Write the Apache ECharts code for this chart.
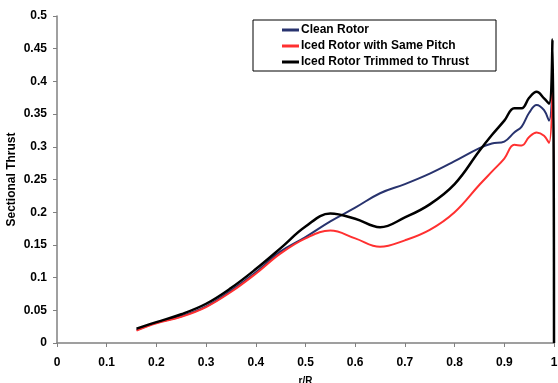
<!DOCTYPE html>
<html>
<head>
<meta charset="utf-8">
<script src="https://cdn.jsdelivr.net/npm/echarts@6/dist/echarts.min.js"></script>
<style>
  html, body { margin: 0; padding: 0; background: #fff; }
  #chart { width: 558px; height: 383px; }
</style>
</head>
<body>
<div id="chart"></div>
<script>
// Radial stations r/R
const radius = [0.16, 0.2, 0.25, 0.3, 0.35, 0.4, 0.45, 0.5, 0.55, 0.6, 0.65, 0.7, 0.75, 0.8,
                0.85, 0.875, 0.9, 0.92, 0.935, 0.95, 0.965, 0.98, 0.99, 0.997, 1.0];

// Sectional thrust for each rotor condition
const cleanRotor = [0.020, 0.031, 0.041, 0.056, 0.080, 0.108, 0.140, 0.162, 0.186, 0.207, 0.229, 0.243, 0.259, 0.278,
                    0.298, 0.305, 0.308, 0.322, 0.331, 0.352, 0.364, 0.356, 0.340, 0.400, 0.0];
const icedSamePitch = [0.019, 0.030, 0.040, 0.055, 0.078, 0.106, 0.137, 0.160, 0.172, 0.160, 0.147, 0.157, 0.173, 0.200,
                       0.242, 0.262, 0.282, 0.303, 0.302, 0.315, 0.322, 0.317, 0.306, 0.390, 0.0];
const icedTrimmed = [0.022, 0.032, 0.044, 0.060, 0.084, 0.113, 0.145, 0.178, 0.198, 0.190, 0.177, 0.192, 0.212, 0.243,
                     0.294, 0.318, 0.340, 0.359, 0.359, 0.375, 0.384, 0.374, 0.366, 0.464, 0.0];

const seriesNames = ['Clean Rotor', 'Iced Rotor with Same Pitch', 'Iced Rotor Trimmed to Thrust'];

const font = 'Liberation Sans, Arial, sans-serif';
const pairs = (ys) => radius.map((x, i) => [x, ys[i]]);

function lineSeries(name, ys, color, width) {
  return {
    name: name,
    type: 'line',
    data: pairs(ys),
    smooth: 0.4,
    showSymbol: false,
    lineStyle: { color: color, width: width },
    itemStyle: { color: color },
    emphasis: { disabled: true }
  };
}

const chart = echarts.init(document.getElementById('chart'), null, { renderer: 'canvas' });
chart.setOption({
  animation: false,
  backgroundColor: '#fff',
  grid: { left: 57, right: 4, top: 16, bottom: 40, containLabel: false, outerBoundsMode: 'none' },
  legend: {
    left: 253, top: 20,
    orient: 'vertical',
    data: seriesNames,
    icon: 'rect',
    itemWidth: 17, itemHeight: 3,
    itemGap: 4,
    padding: [4, 27, 3, 29],
    borderColor: '#000', borderWidth: 1,
    backgroundColor: '#fff',
    textStyle: { fontFamily: font, fontWeight: 'bold', fontSize: 12, color: '#000', padding: [0, 0, 0, -3] }
  },
  xAxis: {
    type: 'value', min: 0, max: 1, interval: 0.1,
    name: 'r/R', nameLocation: 'middle', nameGap: 33, nameMoveOverlap: false,
    nameTextStyle: { fontFamily: font, fontWeight: 'bold', fontSize: 10, color: '#000' },
    axisLine: { lineStyle: { color: '#808080', width: 1.5 } },
    axisTick: { show: true, length: 4, lineStyle: { color: '#808080' } },
    axisLabel: { fontFamily: font, fontWeight: 'bold', fontSize: 12, color: '#000', margin: 14 },
    splitLine: { show: false }
  },
  yAxis: {
    type: 'value', min: 0, max: 0.5, interval: 0.05,
    name: 'Sectional Thrust', nameLocation: 'middle', nameGap: 39, nameRotate: 90, nameMoveOverlap: false,
    nameTextStyle: { fontFamily: font, fontWeight: 'bold', fontSize: 12, color: '#000' },
    axisLine: { show: true, lineStyle: { color: '#808080', width: 1.5 } },
    axisTick: { show: true, length: 4, lineStyle: { color: '#808080' } },
    axisLabel: { fontFamily: font, fontWeight: 'bold', fontSize: 12, color: '#000', margin: 10 },
    splitLine: { show: false }
  },
  series: [
    lineSeries(seriesNames[0], cleanRotor, '#28336e', 2),
    lineSeries(seriesNames[1], icedSamePitch, '#ff3030', 2),
    lineSeries(seriesNames[2], icedTrimmed, '#000000', 2.5)
  ]
});
</script>
</body>
</html>
